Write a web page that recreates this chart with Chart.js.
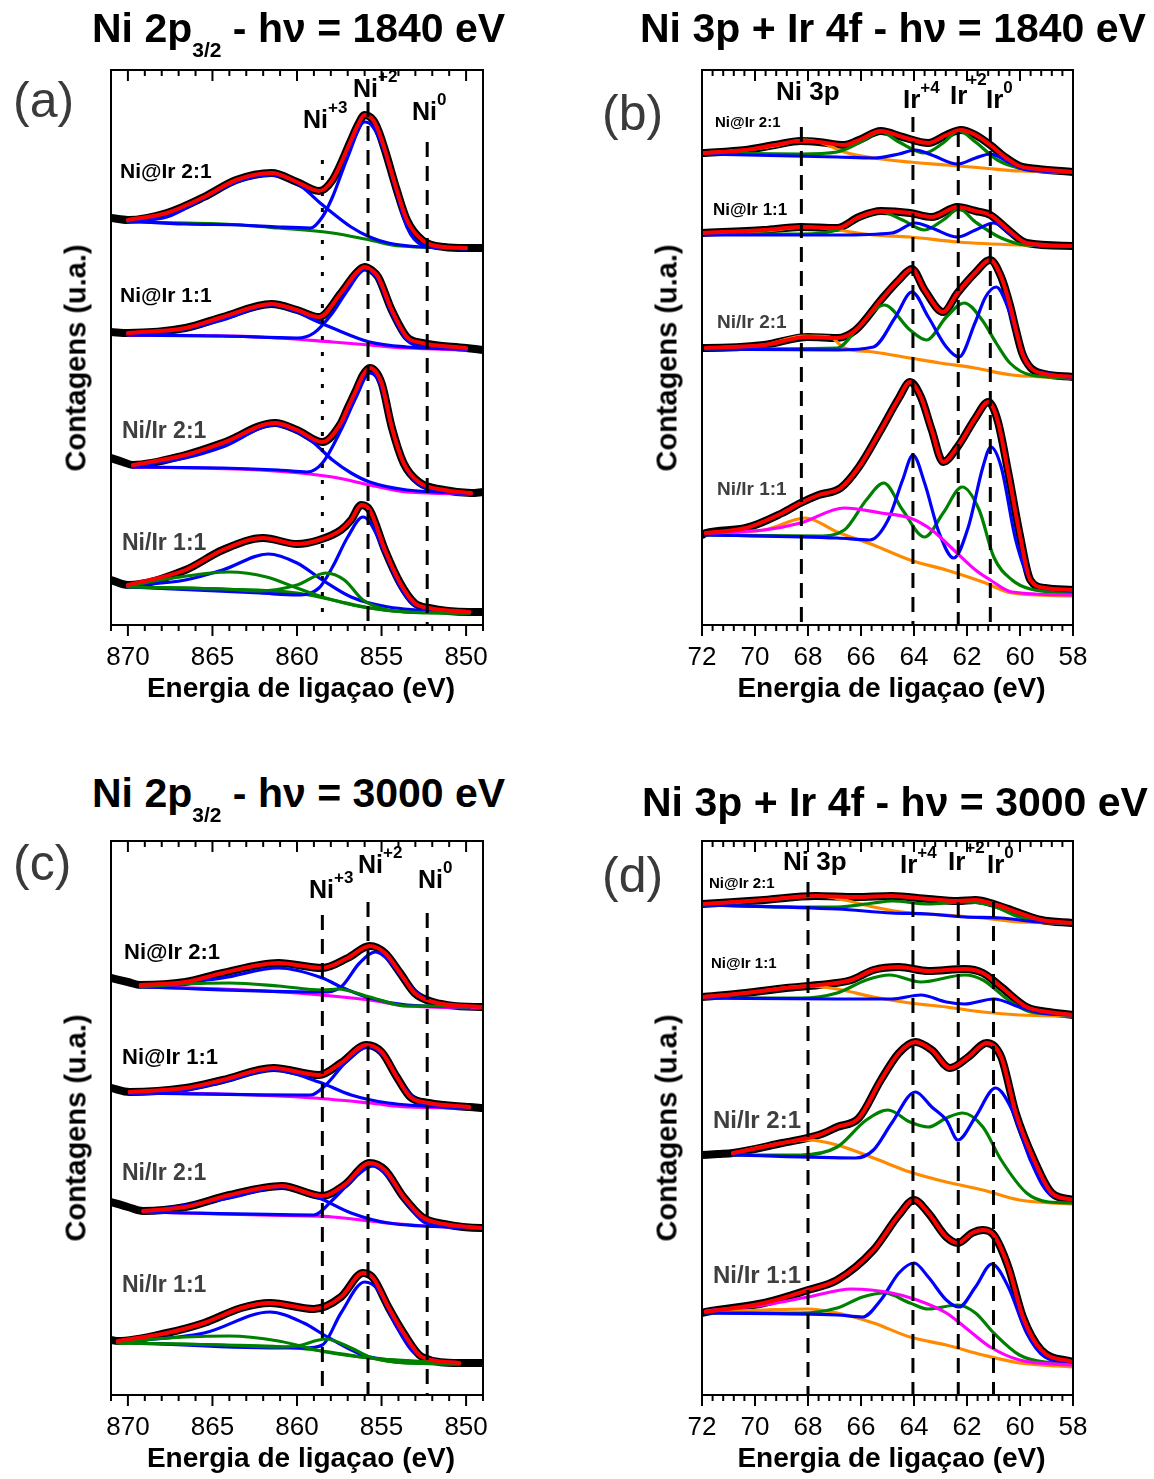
<!DOCTYPE html>
<html lang="pt">
<head>
<meta charset="utf-8">
<title>XPS Ni 2p / Ni 3p + Ir 4f</title>
<script src="https://cdn.jsdelivr.net/npm/chart.js@4.4.1/dist/chart.umd.min.js"></script>
<style>
  html, body { margin: 0; padding: 0; background: #fff; }
  body { position: relative; width: 1154px; height: 1479px; overflow: hidden;
         font-family: "Liberation Sans", Arial, Helvetica, sans-serif; }
  canvas { position: absolute; }
  .t { position: absolute; white-space: nowrap; line-height: 1; font-weight: bold; color: #000; }
  .t .sub { position: relative; top: 15px; font-size: 21px; }
  .t .sup { position: relative; top: -15px; font-size: 17px; }
  .panel { font-weight: normal; color: #3a3a3a; }
  .gray { color: #3f3f3f; }
  .ytitle { transform: translate(-50%, -50%) rotate(-90deg); }
  .center { transform: translateX(-50%); }
</style>
</head>
<body>
<script>
// ---------- data (binding energy in eV, intensity in arbitrary units, offsets included) ----------

// (a) Ni 2p3/2, 1840 eV
const a1Fit = [[870,405],[867.7,412],[865.5,428],[863.6,445],[861.5,452],[860,443],[858.7,434],[857.9,445],[856.8,485],[856.4,500],[856,510],[855.5,505],[855.2,495],[854.8,475],[854.1,435],[853.5,405],[852.6,385],[851.3,378],[850,377]];
const a1Data = [[871,407], ...a1Fit, [849,377]];
const a1Sat = [[870,404],[867.7,408],[865.5,427],[863.6,443],[861.5,450],[860,442],[858.7,423],[857.9,412],[856.8,398],[855.7,388],[854.6,382],[852.6,378],[850,377]];
const a1Main = [[870,404],[866.6,401],[863.3,400],[861.1,398],[859.2,397],[858.5,408],[857.9,428],[857,468],[856,503],[855.5,498],[854.8,472],[854.1,432],[853.5,398],[852.6,380],[851.3,377],[850,376]];
const a1Bg = [[870,403],[864.4,401],[861.1,397],[857.9,392],[855.7,385],[853.9,379],[850,377]];

const a2Fit = [[870,292],[866.6,297],[864.4,308],[861.5,321],[860,315],[858.7,308],[857.4,332],[856.5,352],[856,358],[855.6,355],[855.2,348],[854.4,315],[853.5,288],[852.6,282],[850,277]];
const a2Data = [[871,293], ...a2Fit, [849,275]];
const a2Sat = [[870,291],[866.6,296],[864.4,305],[861.5,320],[860,313],[859,305],[857.9,297],[855.7,283],[853.5,278],[850,276]];
const a2Main = [[870,290],[864.4,289],[860,287],[859,292],[857.9,312],[857,335],[856,355],[855.2,345],[854.4,312],[853.5,285],[852.6,278],[850,276]];
const a2Bg = [[870,290],[862.2,288],[857.9,283],[855.7,280],[853.5,277],[850,275]];

const a3Fit = [[869.7,160],[866.6,170],[864.4,182],[861.3,202],[860,195],[858.5,183],[857.4,202],[857,217],[856.5,235],[856.1,250],[855.7,257],[855,242],[854.4,198],[853.7,162],[852.8,143],[851.3,135],[849.7,132]];
const a3Data = [[871,167],[870.3,163], ...a3Fit, [849,133]];
const a3Sat = [[869.7,159],[866.6,167],[864.4,178],[861.3,200],[860,193],[859,182],[857.9,165],[856.8,152],[855.7,143],[853.5,135],[849.7,132]];
const a3Main = [[869.7,158],[864.4,157],[861.1,155],[859.4,153],[858.5,162],[857.4,195],[856.5,228],[855.7,252],[855,238],[854.4,198],[853.5,155],[852.4,137],[849.7,131]];
const a3Bg = [[869.7,158],[862.2,155],[857.9,148],[855.7,140],[853.5,133],[849.7,131]];

const a4Fit = [[870,40],[866.6,55],[864.4,75],[862,87],[860,81],[858.7,85],[857.4,95],[856.8,105],[856.2,120],[855.7,115],[854.8,75],[853.9,42],[853.05,22],[852.2,17],[849.8,13]];
const a4Data = [[871,45], ...a4Fit, [849,13]];
const a4Sat = [[870,39],[866.6,45],[864.4,55],[861.7,71],[860,62],[858.5,45],[856.8,28],[854.6,18],[849.8,13]];
const a4Main = [[870,38],[862.2,32],[860,30],[858.7,37],[857.9,58],[857,88],[856.1,108],[855.7,103],[854.8,72],[853.9,38],[853.05,20],[849.8,13]];
const a4Sat2 = [[870,39],[867.7,46],[864,53],[861.8,48],[860,37],[858.3,27],[856.1,18],[853.5,13],[849.8,12]];
const a4Ni3 = [[870,38],[864.4,36],[862.2,34],[860,40],[858.3,52],[857.2,45],[856.1,25],[854.6,15],[852,12],[849.8,12]];
const a4Bg = [[870,38],[864.4,36],[860,32],[857.9,25],[855.7,17],[853.5,13],[849.8,12]];

// (b) Ni 3p + Ir 4f, 1840 eV
const b1Fit = [[72,472],[70.35,475],[69.25,480],[68.28,484],[67.6,483],[66.63,480],[66.08,485],[65.25,494],[64.43,488],[63.46,482],[62.78,490],[62.23,495],[61.68,490],[61.12,480],[60.57,468],[60.02,459],[59.33,456],[58,453]];
const b1Data = [...b1Fit];
const b1Bg = [[72,472],[70.35,475],[69.25,479],[68.15,485],[67.46,482],[66.63,473],[65.53,467],[64.15,463],[62.78,460],[61.4,457],[60.02,454],[58,453]];
const b1Green = [[72,472],[68.28,471],[66.9,473],[66.08,482],[65.25,493],[64.57,483],[63.6,472],[62.9,482],[62.3,494],[61.68,483],[60.85,465],[60.02,457],[58,453]];
const b1Blue = [[72,471],[66.9,468],[65.53,467],[64.57,471],[63.95,475],[63.33,470],[62.36,461],[61.68,467],[61.12,471],[60.44,463],[59.75,455],[58,453]];

const b2Fit = [[72,392],[69.66,395],[68.28,398],[66.9,397],[66.08,408],[65.25,414],[64.15,412],[63.33,408],[62.36,418],[61.68,414],[61.12,410],[60.44,395],[59.75,382],[58,379]];
const b2Data = [...b2Fit];
const b2Bg = [[72,391],[69.66,394],[68,398],[66.9,395],[65.53,390],[64.15,388],[62.36,383],[60.02,380],[58,379]];
const b2Green = [[72,391],[68.28,391],[66.9,395],[66.08,407],[65.25,413],[64.43,405],[63.6,395],[62.9,405],[62.3,416],[61.68,403],[60.71,387],[59.75,380],[58,379]];
const b2Blue = [[72,390],[66.9,390],[64.84,392],[63.95,402],[63.33,397],[62.36,388],[61.68,395],[60.99,402],[60.3,390],[59.47,380],[58,379]];

const b3Fit = [[71.86,277],[69.66,280],[68,288],[66.9,287],[66.2,295],[65.25,325],[64.57,345],[64.08,356],[63.6,335],[62.9,313],[62.36,332],[61.7,352],[61.13,365],[60.71,348],[60.38,320],[60.18,298],[59.92,272],[59.59,257],[59.06,251],[58,248]];
const b3Data = [[72,277], ...b3Fit];
const b3Blue = [[71.86,276],[66.9,275],[65.53,278],[64.7,308],[64.08,333],[63.46,308],[62.78,278],[62.3,268],[61.7,302],[61.3,328],[60.9,338],[60.38,312],[59.98,278],[59.59,257],[59.06,252],[58,247]];
const b3Green = [[71.86,276],[66.9,277],[66.08,298],[65.12,320],[64.15,295],[63.53,285],[62.78,308],[62.1,322],[61.43,305],[60.9,282],[60.38,262],[59.59,250],[58,247]];
const b3Bg = [[71.86,277],[69.66,280],[68.15,289],[67.18,288],[66.63,277],[65.53,273],[64.15,267],[63.02,262],[61.7,257],[60.3,250],[59,248],[58,247]];

const b4Fit = [[71.86,92],[70.35,97],[68.97,112],[68.28,122],[67.6,130],[66.77,137],[66.08,158],[65.25,195],[64.57,227],[64.15,243],[63.74,228],[63.33,195],[62.9,163],[62.36,178],[61.68,207],[61.2,223],[60.85,205],[60.44,152],[60.02,92],[59.61,45],[59.06,37],[58,35]];
const b4Data = [[72,90], ...b4Fit];
const b4Blue = [[71.86,90],[66.9,87],[65.67,85],[64.98,105],[64.43,145],[64.04,170],[63.6,142],[63.05,92],[62.5,67],[61.95,98],[61.4,158],[61.1,178],[60.71,158],[60.16,85],[59.61,45],[58.92,36],[58,34]];
const b4Green = [[71.86,90],[67.6,89],[66.63,95],[65.8,125],[65.14,142],[64.43,115],[63.6,88],[62.9,112],[62.18,138],[61.54,115],[60.99,68],[60.3,45],[59.61,36],[58,32]];
const b4Mag = [[71.86,92],[69.66,95],[68.28,102],[66.63,117],[65.25,112],[64.15,107],[63.33,95],[62.5,75],[61.68,55],[61.12,45],[60.3,33],[58,30]];
const b4Bg = [[71.86,92],[69.66,95],[68.1,107],[66.9,93],[65.53,80],[64.15,65],[62.78,55],[61.4,43],[60.3,32],[58,29]];

// (c) Ni 2p3/2, 3000 eV
const c1Fit = [[869.25,410],[866.6,413],[864.4,422],[861.1,432],[858.5,427],[857,437],[855.7,449],[854.8,442],[853.9,422],[853.05,402],[851.95,393],[849.1,388]];
const c1Data = [[871,417],[870,413], ...c1Fit, [849,388]];
const c1Sat = [[869.25,408],[864.4,417],[861.1,427],[858.5,417],[857.4,408],[855.7,397],[853.5,390],[849.8,388]];
const c1Main = [[869.25,408],[858.5,403],[857.4,408],[856.3,432],[855.35,443],[854.6,435],[853.5,412],[852.4,396],[849.8,388]];
const c1Green = [[869.25,408],[866.6,411],[864,412],[861.1,409],[858.5,405],[857.6,406],[855.7,398],[853.5,389],[852.2,389],[849.8,388]];
const c1Bg = [[869.25,408],[864.4,406],[860,402],[855.7,395],[853.5,389],[849.1,387]];

const c2Fit = [[869.9,303],[866.6,307],[864.4,315],[861.4,327],[858.7,320],[857.4,332],[855.9,350],[855,343],[854.1,318],[853.3,298],[852.2,292],[849.8,288]];
const c2Data = [[871,307], ...c2Fit, [849,287]];
const c2Sat = [[869.9,302],[866.6,305],[864.4,313],[861.4,325],[858.7,313],[856.8,300],[854.6,292],[849.8,287]];
const c2Main = [[869.9,302],[859.2,300],[858.3,310],[857,335],[855.8,348],[854.8,338],[853.7,308],[852.4,290],[849.8,287]];
const c2Bg = [[869.9,302],[864.4,301],[859,297],[855.7,292],[853.5,288],[849.8,287]];

const c3Fit = [[869.1,184],[866.6,188],[864,200],[860.9,209],[858.5,199],[857.2,210],[855.7,232],[854.8,225],[853.7,198],[852.6,178],[851.3,171],[849.1,167]];
const c3Data = [[871,193],[870,188], ...c3Fit, [849,167]];
const c3Sat = [[869.1,183],[864,197],[860.9,208],[858.7,197],[856.8,182],[854.6,172],[849.1,167]];
const c3Main = [[869.1,183],[859,180],[857.9,195],[856.55,218],[855.5,229],[854.6,218],[853.5,192],[852.4,172],[849.1,167]];
const c3Bg = [[869.1,183],[862.2,180],[857.9,178],[854.6,172],[852.4,169],[849.1,167]];

const c4Fit = [[870.6,54],[867.7,62],[865.5,72],[863.3,87],[861.6,92],[859,86],[857.4,98],[856.1,122],[855.5,117],[854.6,88],[853.7,62],[852.6,38],[850.4,32]];
const c4Data = [[871,55], ...c4Fit, [849,32]];
const c4Sat = [[870.6,53],[865.5,62],[861.6,83],[859.6,72],[858.1,57],[855.7,38],[850.4,32]];
const c4Main = [[870.6,53],[861.1,47],[859.6,47],[858.5,50],[857.4,82],[856,113],[855.2,105],[854.1,68],[853.05,42],[850.4,32]];
const c4Sat2 = [[870.6,53],[866.6,58],[864,59],[861.1,54],[858.3,43],[855.7,37],[850.4,32]];
const c4Ni3 = [[870.6,52],[864.4,50],[861.1,48],[860,49],[858.3,56],[856.8,47],[855.7,38],[853.5,32],[850.4,31]];
const c4Bg = [[870.6,52],[864.4,50],[860,47],[855.7,37],[853.5,32],[850.4,31]];

// (d) Ni 3p + Ir 4f, 3000 eV
const d1Fit = [[72,491],[69.66,495],[67.73,499],[66.2,498],[64.84,499],[63.46,496],[62.36,494],[61.68,495],[60.99,491],[60.02,482],[59.2,475],[58,472]];
const d1Data = [...d1Fit];
const d1Bg = [[72,490],[69.66,495],[67.6,499],[66.63,495],[65.53,488],[64.15,482],[62.78,480],[61.4,477],[60.02,473],[58,472]];
const d1Green = [[72,490],[68.28,488],[66.9,488],[65.53,492],[64.84,494],[63.46,491],[62.09,493],[61.12,490],[60.02,478],[59.06,473],[58,472]];
const d1Blue = [[72,490],[66.9,486],[64.84,482],[63.46,481],[62.09,478],[60.71,477],[59.33,473],[58,472]];

const d2Fit = [[72,398],[70.35,402],[68.83,407],[67.6,410],[66.36,415],[65.53,425],[64.57,428],[63.46,424],[62.09,426],[61.4,422],[60.71,408],[59.75,388],[58.92,383],[58,380]];
const d2Data = [...d2Fit];
const d2Bg = [[72,398],[70.35,402],[68,409],[66.9,406],[65.53,398],[64.15,392],[62.78,388],[61.4,383],[60.02,380],[58,379]];
const d2Green = [[72,397],[68.28,397],[66.9,402],[65.8,415],[64.91,420],[63.74,413],[62.09,420],[61.4,415],[60.44,395],[59.61,383],[58,380]];
const d2Blue = [[72,397],[66.9,396],[64.84,396],[63.74,400],[62.78,393],[62.09,391],[60.99,396],[60.02,388],[59.2,382],[58,380]];

const d3Fit = [[70.83,242],[68.97,252],[67.6,260],[66.9,268],[66.08,277],[65.25,315],[64.57,342],[63.95,353],[63.33,345],[62.64,327],[61.95,338],[61.26,352],[60.71,338],[60.16,282],[59.47,235],[58.8,202],[58,195]];
const d3Data = [[72,240],[71.4,241], ...d3Fit];
const d3Blue = [[70.83,240],[66.2,237],[65.53,245],[64.84,272],[63.95,303],[63.33,288],[62.78,275],[62.34,255],[61.68,278],[60.92,307],[60.3,285],[59.61,235],[58.92,202],[58,195]];
const d3Green = [[70.83,240],[68.28,240],[66.9,248],[65.8,275],[64.98,285],[64.15,273],[63.46,268],[62.78,277],[62.16,282],[61.4,268],[60.71,235],[59.75,202],[58.92,193],[58,192]];
const d3Bg = [[70.83,242],[69.4,250],[68,255],[66.9,250],[65.53,237],[64.15,223],[62.78,213],[61.4,205],[60.02,195],[58,191]];

const d4Fit = [[71.86,83],[69.66,92],[68,105],[66.9,115],[65.53,145],[64.57,180],[64,195],[63.46,182],[62.78,158],[62.34,152],[61.81,162],[61.4,165],[60.99,160],[60.44,128],[59.89,78],[59.2,45],[58,33]];
const d4Data = [[72,82], ...d4Fit];
const d4Blue = [[71.86,82],[66.9,80],[65.94,78],[65.25,95],[64.57,122],[64,132],[63.46,118],[62.78,95],[62.3,88],[61.68,108],[61.06,131],[60.44,108],[59.75,62],[59.06,38],[58,32]];
const d4Green = [[71.86,82],[68.28,82],[66.9,87],[65.94,98],[65.12,102],[64.15,92],[63.46,86],[62.36,90],[61.68,82],[60.99,62],[60.02,40],[59.06,33],[58,32]];
const d4Mag = [[71.86,84],[69.66,90],[68,98],[66.36,106],[64.84,102],[63.88,95],[62.78,82],[61.95,65],[61.12,48],[60.02,35],[58,30]];
const d4Bg = [[71.86,83],[69.66,85],[68,86],[66.9,82],[65.53,72],[64.15,58],[62.78,50],[61.4,40],[60.02,32],[58,28]];

// reference lines (position, top of the line)
const aMarks = [858.5, 855.8, 852.3], aMarkTop = [465, 523, 483];
const bMarks = [68.25, 64.04, 62.33, 61.12], bMarkTop = [498, 508, 493, 498];
const cMarks = [858.5, 855.8, 852.3], cMarkTop = [480, 493, 482];
const dMarks = [68.0, 64.04, 62.33, 61.0], dMarkTop = [513, 493, 493, 493];

// axis ticks
const niMajor = [870, 865, 860, 855, 850];
const niMinor = [871, 869, 868, 867, 866, 864, 863, 862, 861, 859, 858, 857, 856, 854, 853, 852, 851, 849];
const irMajor = [72, 70, 68, 66, 64, 62, 60, 58];
const irMinor = [];
for (let v = 720; v >= 580; v -= 4) irMinor.push(v / 10);

// ---------- layout ----------
const frames = {
  a: { l: 111, t: 70, r: 483, b: 625 },
  b: { l: 702, t: 70, r: 1073, b: 625 },
  c: { l: 111, t: 841, r: 483, b: 1395 },
  d: { l: 702, t: 841, r: 1073, b: 1395 }
};

const RED = '#ff0000', BLUE = '#0000ff', GREEN = '#008000', MAG = '#ff00ff', ORANGE = '#ff8a00';

const frameAxis = {
  id: 'frameAxis',
  afterDatasetsDraw(chart, args, o) {
    const { ctx, chartArea: a } = chart;
    const x = chart.scales.x;
    ctx.save();
    ctx.strokeStyle = '#000';
    ctx.lineWidth = 2;
    ctx.strokeRect(a.left, a.top, a.right - a.left, a.bottom - a.top);
    const tick = (v, len) => {
      const px = x.getPixelForValue(v);
      ctx.beginPath();
      ctx.moveTo(px, a.bottom); ctx.lineTo(px, a.bottom + len);
      ctx.moveTo(px, a.top); ctx.lineTo(px, a.top + len);
      ctx.stroke();
    };
    o.minor.forEach(v => tick(v, 6));
    o.major.forEach(v => tick(v, 11));
    ctx.fillStyle = '#000';
    ctx.font = '26px "Liberation Sans", Arial, sans-serif';
    ctx.textAlign = 'center';
    ctx.textBaseline = 'alphabetic';
    o.major.forEach(v => ctx.fillText(String(v), x.getPixelForValue(v), a.bottom + 40));
    ctx.restore();
  }
};

function line(data, color, width, order) {
  return { data, borderColor: color, borderWidth: width, pointRadius: 0, fill: false,
           cubicInterpolationMode: 'monotone', borderCapStyle: 'round', borderJoinStyle: 'round', order };
}
const dat = d => line(d, '#000', 8, 5);
const bg = (d, c) => line(d, c, 3.2, 4);
const comp = (d, c) => line(d, c, 3.2, 3);
const fit = d => line(d, RED, 4, 2);

function marks(xs, tops, dashes) {
  return xs.map((x, i) => ({
    data: [[x, tops[i]], [x, 0]], borderColor: '#000', borderWidth: 3,
    borderDash: dashes[i], pointRadius: 0, tension: 0, order: 1
  }));
}

function panel(key, xr, major, minor, datasets) {
  const f = frames[key];
  const pad = { left: 50, right: 50, top: 20, bottom: 60 };
  const w = f.r - f.l + pad.left + pad.right, h = f.b - f.t + pad.top + pad.bottom;
  const cv = document.createElement('canvas');
  cv.width = w; cv.height = h;
  cv.style.left = (f.l - pad.left) + 'px';
  cv.style.top = (f.t - pad.top) + 'px';
  cv.style.width = w + 'px'; cv.style.height = h + 'px';
  document.body.appendChild(cv);
  return new Chart(cv, {
    type: 'line',
    data: { datasets },
    options: {
      responsive: false, animation: false, devicePixelRatio: 1, events: [],
      layout: { padding: pad },
      plugins: { legend: { display: false }, tooltip: { enabled: false }, frameAxis: { major, minor } },
      scales: {
        x: { type: 'linear', min: xr[1], max: xr[0], reverse: true, display: false },
        y: { type: 'linear', min: 0, max: f.b - f.t, display: false }
      }
    },
    plugins: [frameAxis]
  });
}

const DASH = [15, 9], DOT = [4, 12];

panel('a', [871, 849], niMajor, niMinor, [
  dat(a1Data), dat(a2Data), dat(a3Data), dat(a4Data),
  bg(a1Bg, GREEN), bg(a2Bg, MAG), bg(a3Bg, MAG), bg(a4Bg, GREEN),
  comp(a1Sat, BLUE), comp(a1Main, BLUE),
  comp(a2Sat, BLUE), comp(a2Main, BLUE),
  comp(a3Sat, BLUE), comp(a3Main, BLUE),
  comp(a4Sat2, GREEN), comp(a4Ni3, GREEN), comp(a4Sat, BLUE), comp(a4Main, BLUE),
  fit(a1Fit), fit(a2Fit), fit(a3Fit), fit(a4Fit),
  ...marks(aMarks, aMarkTop, [DOT, DASH, DASH])
]);

panel('b', [72, 58], irMajor, irMinor, [
  dat(b1Data), dat(b2Data), dat(b3Data), dat(b4Data),
  bg(b1Bg, ORANGE), bg(b2Bg, ORANGE), bg(b3Bg, ORANGE), bg(b4Bg, ORANGE),
  comp(b1Blue, BLUE), comp(b1Green, GREEN),
  comp(b2Blue, BLUE), comp(b2Green, GREEN),
  comp(b3Blue, BLUE), comp(b3Green, GREEN),
  comp(b4Mag, MAG), comp(b4Blue, BLUE), comp(b4Green, GREEN),
  fit(b1Fit), fit(b2Fit), fit(b3Fit), fit(b4Fit),
  ...marks(bMarks, bMarkTop, [DASH, DASH, DASH, DASH])
]);

panel('c', [871, 849], niMajor, niMinor, [
  dat(c1Data), dat(c2Data), dat(c3Data), dat(c4Data),
  bg(c1Bg, MAG), bg(c2Bg, MAG), bg(c3Bg, MAG), bg(c4Bg, GREEN),
  comp(c1Green, GREEN), comp(c1Sat, BLUE), comp(c1Main, BLUE),
  comp(c2Sat, BLUE), comp(c2Main, BLUE),
  comp(c3Sat, BLUE), comp(c3Main, BLUE),
  comp(c4Sat2, GREEN), comp(c4Ni3, GREEN), comp(c4Sat, BLUE), comp(c4Main, BLUE),
  fit(c1Fit), fit(c2Fit), fit(c3Fit), fit(c4Fit),
  ...marks(cMarks, cMarkTop, [DASH, DASH, DASH])
]);

panel('d', [72, 58], irMajor, irMinor, [
  dat(d1Data), dat(d2Data), dat(d3Data), dat(d4Data),
  bg(d1Bg, ORANGE), bg(d2Bg, ORANGE), bg(d3Bg, ORANGE), bg(d4Bg, ORANGE),
  comp(d1Blue, BLUE), comp(d1Green, GREEN),
  comp(d2Blue, BLUE), comp(d2Green, GREEN),
  comp(d3Blue, BLUE), comp(d3Green, GREEN),
  comp(d4Mag, MAG), comp(d4Blue, BLUE), comp(d4Green, GREEN),
  fit(d1Fit), fit(d2Fit), fit(d3Fit), fit(d4Fit),
  ...marks(dMarks, dMarkTop, [DASH, DASH, DASH, DASH])
]);

// ---------- text ----------
function txt(html, left, base, size, cls, style) {
  const d = document.createElement('div');
  d.className = 't' + (cls ? ' ' + cls : '');
  d.innerHTML = html;
  d.style.left = left + 'px';
  d.style.top = (base - 0.8465 * size) + 'px';
  d.style.fontSize = size + 'px';
  if (style) Object.assign(d.style, style);
  document.body.appendChild(d);
  return d;
}
function ytitle(cx, cy) {
  const d = document.createElement('div');
  d.className = 't ytitle';
  d.textContent = 'Contagens (u.a.)';
  d.style.left = cx + 'px';
  d.style.top = cy + 'px';
  d.style.fontSize = '29px';
  document.body.appendChild(d);
}

// titles
txt('Ni 2p<span class="sub">3/2</span> - hν = 1840 eV', 92, 43, 41);
txt('Ni 3p + Ir 4f - hν = 1840 eV', 640, 43, 41);
txt('Ni 2p<span class="sub">3/2</span> - hν = 3000 eV', 92, 808, 41);
txt('Ni 3p + Ir 4f - hν = 3000 eV', 642, 817, 41);

// panel letters
txt('(a)', 13, 117, 50, 'panel');
txt('(b)', 602, 130, 50, 'panel');
txt('(c)', 13, 880, 50, 'panel');
txt('(d)', 602, 892, 50, 'panel');

// axis titles
['a', 'b', 'c', 'd'].forEach(k => {
  const f = frames[k];
  txt('Energia de ligaçao (eV)', (f.l + f.r) / 2 + 4, f.b + 73, 28, 'center');
  ytitle(f.l - 35, (f.t + f.b) / 2 + 10);
});

// peak labels
txt('Ni<span class="sup">+3</span>', 303, 128, 25);
txt('Ni<span class="sup">+2</span>', 353, 97, 25);
txt('Ni<span class="sup">0</span>', 412, 120, 25);
txt('Ni<span class="sup">+3</span>', 309, 898, 25);
txt('Ni<span class="sup">+2</span>', 358, 873, 25);
txt('Ni<span class="sup">0</span>', 418, 888, 25);

txt('Ni 3p', 776, 100, 26);
txt('Ir<span class="sup">+4</span>', 903, 108, 26);
txt('Ir<span class="sup" style="top:-19px">+2</span>', 950, 104, 26);
txt('Ir<span class="sup">0</span>', 986, 108, 26);
txt('Ni 3p', 783, 870, 26);
txt('Ir<span class="sup">+4</span>', 900, 873, 26);
txt('Ir<span class="sup" style="top:-17px">+2</span>', 948, 870, 26);
txt('Ir<span class="sup">0</span>', 987, 873, 26);

// sample labels
txt('Ni@Ir 2:1', 120, 178, 21);
txt('Ni@Ir 1:1', 120, 302, 21);
txt('Ni/Ir 2:1', 122, 438, 23, 'gray');
txt('Ni/Ir 1:1', 122, 550, 23, 'gray');

txt('Ni@Ir 2:1', 715, 127, 15);
txt('Ni@Ir 1:1', 713, 215, 17);
txt('Ni/Ir 2:1', 717, 328, 19, 'gray');
txt('Ni/Ir 1:1', 717, 495, 19, 'gray');

txt('Ni@Ir 2:1', 124, 960, 22);
txt('Ni@Ir 1:1', 122, 1065, 22);
txt('Ni/Ir 2:1', 122, 1180, 23, 'gray');
txt('Ni/Ir 1:1', 122, 1292, 23, 'gray');

txt('Ni@Ir 2:1', 709, 888, 15);
txt('Ni@Ir 1:1', 711, 968, 15);
txt('Ni/Ir 2:1', 713, 1128, 24, 'gray');
txt('Ni/Ir 1:1', 713, 1283, 24, 'gray');
</script>
</body>
</html>
